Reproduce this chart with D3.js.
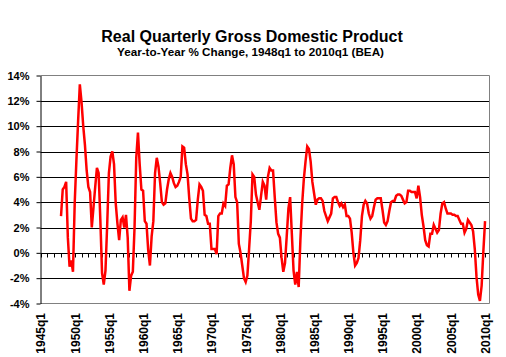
<!DOCTYPE html>
<html>
<head>
<meta charset="utf-8">
<script src="https://cdn.jsdelivr.net/npm/d3@7/dist/d3.min.js"></script>
<style>
  html, body { margin: 0; padding: 0; background: #fff; }
  svg { display: block; }
  text { font-family: "Liberation Sans", Arial, sans-serif; font-weight: bold; fill: #000; }
</style>
</head>
<body>
<svg id="chart" width="506" height="357"></svg>
<script>
// ---- Data ----
const chartTitle = "Real Quarterly Gross Domestic Product";
const chartSubtitle = "Year-to-Year % Change, 1948q1 to 2010q1 (BEA)";
const axisStartYear = 1945;            // category axis begins at 1945q1
const seriesStart = { year: 1948, quarter: 1 };
// Real GDP, year-to-year % change, quarterly 1948q1 .. 2010q1
const yoyChange = [
  2.9, 5.0, 5.2, 5.6,      // 1948
  1.2, -1.1, -0.6, -1.5,   // 1949
  3.9, 7.3, 10.4, 13.3,    // 1950
  11.9, 10.0, 8.5, 6.5,    // 1951
  5.2, 4.8, 2.0, 3.6,      // 1952
  5.2, 6.7, 6.3, 2.6,      // 1953
  -1.6, -2.5, -1.4, 2.2,   // 1954
  6.3, 7.6, 8.0, 7.0,      // 1955
  3.9, 2.3, 1.0, 2.6,      // 1956
  2.8, 2.0, 3.0, 1.2,      // 1957
  -3.0, -1.8, -1.5, 2.0,   // 1958
  7.5, 9.5, 7.0, 5.0,      // 1959
  4.9, 2.5, 2.3, 0.2,      // 1960
  -1.0, 1.3, 2.5, 6.3,     // 1961
  7.5, 6.8, 5.5, 4.0,      // 1962
  3.8, 3.9, 5.0, 5.8,      // 1963
  6.3, 6.0, 5.5, 5.2,      // 1964
  5.3, 5.6, 6.0, 8.4,      // 1965
  8.3, 7.0, 6.2, 4.3,      // 1966
  2.7, 2.5, 2.5, 2.6,      // 1967
  4.2, 5.4, 5.2, 4.9,      // 1968
  3.0, 2.9, 2.3, 2.3,      // 1969
  0.3, 0.3, 0.3, -0.1,     // 1970
  2.9, 3.1, 3.1, 3.9,      // 1971
  3.7, 5.3, 5.4, 6.7,      // 1972
  7.7, 7.0, 4.4, 4.0,      // 1973
  0.7, 0.0, -1.0, -2.0,    // 1974
  -2.3, -1.8, 0.3, 2.5,    // 1975
  6.2, 6.0, 4.6, 4.0,      // 1976
  3.4, 4.5, 5.6, 5.3,      // 1977
  4.2, 6.0, 6.7, 6.5,      // 1978
  6.5, 4.4, 2.4, 1.5,      // 1979
  1.2, -0.4, -1.5, -0.8,   // 1980
  1.3, 3.5, 4.4, 1.5,      // 1981
  -1.4, -2.5, -1.5, -2.7,  // 1982
  1.0, 3.8, 5.8, 7.2,      // 1983
  8.4, 8.2, 7.2, 5.6,      // 1984
  4.7, 3.8, 4.2, 4.3,      // 1985
  4.3, 4.1, 3.3, 2.9,      // 1986
  2.5, 2.8, 3.1, 4.3,      // 1987
  4.4, 4.4, 4.0, 3.7,      // 1988
  3.9, 3.6, 3.8, 2.9,      // 1989
  2.9, 2.7, 1.6, 0.0,      // 1990
  -1.0, -0.8, -0.4, 1.0,   // 1991
  2.9, 3.8, 4.1, 3.9,      // 1992
  3.1, 2.7, 2.9, 3.6,      // 1993
  4.2, 4.3, 4.3, 4.3,      // 1994
  3.4, 2.4, 2.2, 2.5,      // 1995
  3.3, 4.0, 4.1, 4.1,      // 1996
  4.5, 4.6, 4.6, 4.5,      // 1997
  4.2, 3.9, 4.0, 4.9,      // 1998
  4.9, 4.8, 4.8, 4.8,      // 1999
  4.3, 5.3, 4.4, 3.0,      // 2000
  2.1, 1.0, 0.6, 0.5,      // 2001
  1.5, 1.5, 2.2, 1.9,      // 2002
  1.6, 1.8, 3.1, 3.9,      // 2003
  4.0, 3.5, 3.1, 3.1,      // 2004
  3.1, 3.0, 3.0, 2.9,      // 2005
  2.9, 2.6, 2.3, 2.3,      // 2006
  1.6, 1.9, 2.6, 2.4,      // 2007
  2.2, 1.7, 0.3, -1.9,     // 2008
  -3.3, -3.8, -2.6, 0.1,   // 2009
  2.5                      // 2010q1
];
const xTickLabels = ["1945q1","1950q1","1955q1","1960q1","1965q1","1970q1","1975q1",
                     "1980q1","1985q1","1990q1","1995q1","2000q1","2005q1","2010q1"];
const yTickValues = [-4, -2, 0, 2, 4, 6, 8, 10, 12, 14];

// ---- Layout ----
const svg = d3.select("#chart");
const plot = { left: 40.5, right: 489.5, top: 75.5, bottom: 303.5 };
const axisEndIndex = 262.6; // plot area extends slightly beyond 2010q1

const x = d3.scaleLinear().domain([0, axisEndIndex]).range([plot.left, plot.right]);
const y = d3.scaleLinear().domain([-4, 14]).range([plot.bottom, plot.top]);

const offset = (seriesStart.year - axisStartYear) * 4 + (seriesStart.quarter - 1);
const points = yoyChange.map((v, k) => ({ idx: offset + k, v }));

// Title
svg.append("text").attr("x", 252).attr("y", 41.5).attr("text-anchor", "middle")
  .style("font-size", "16px").text(chartTitle);
svg.append("text").attr("x", 250.5).attr("y", 56).attr("text-anchor", "middle")
  .style("font-size", "11.7px").text(chartSubtitle);

// Gridlines
svg.append("g").selectAll("line").data(yTickValues.filter(d => d > -4 && d < 14)).join("line")
  .attr("x1", plot.left).attr("x2", plot.right)
  .attr("y1", d => Math.round(y(d)) + 0.5).attr("y2", d => Math.round(y(d)) + 0.5)
  .attr("stroke", "#000").attr("stroke-width", 1);

// Plot border (gray top/right/bottom)
svg.append("path")
  .attr("d", `M${plot.left},${plot.top}H${plot.right}V${plot.bottom}H${plot.left}`)
  .attr("fill", "none").attr("stroke", "#808080").attr("stroke-width", 1);

// Y axis
const yAxis = d3.axisLeft(y).tickValues(yTickValues).tickFormat(d => d + "%").tickSize(4).tickSizeOuter(0);
const gy = svg.append("g").attr("transform", `translate(${plot.left},0)`).call(yAxis);
gy.select(".domain").attr("stroke", "#000");
gy.selectAll(".tick line").attr("stroke", "#000");
gy.selectAll(".tick text").attr("x", -11).style("font-size", "11px")
  .style("font-family", "'Liberation Sans', Arial, sans-serif").style("font-weight", "bold");

// X axis ticks on the zero line (yearly), labels below plot every 5 years
const yearTickIdx = d3.range(0, 261, 4);
const zeroY = Math.round(y(0)) + 0.5;
svg.append("g").selectAll("line").data(yearTickIdx).join("line")
  .attr("x1", d => Math.round(x(d)) + 0.5).attr("x2", d => Math.round(x(d)) + 0.5)
  .attr("y1", zeroY).attr("y2", zeroY + 4)
  .attr("stroke", "#000").attr("stroke-width", 1);

const xAxis = d3.axisBottom(x)
  .tickValues(xTickLabels.map((_, i) => i * 20))
  .tickFormat((d, i) => xTickLabels[i])
  .tickSize(0);
const gx = svg.append("g").attr("transform", `translate(0,${plot.bottom})`).call(xAxis);
gx.select(".domain").remove();
gx.selectAll(".tick text")
  .attr("transform", "translate(0,9.5) rotate(-90)")
  .attr("x", 0).attr("y", 0).attr("dy", "0.36em")
  .attr("text-anchor", "end")
  .style("font-size", "12px")
  .style("font-family", "'Liberation Sans', Arial, sans-serif").style("font-weight", "bold");

// Series line
const line = d3.line().x(d => x(d.idx)).y(d => y(d.v));
svg.append("path").datum(points)
  .attr("d", line)
  .attr("fill", "none").attr("stroke", "#ff0000").attr("stroke-width", 2.5)
  .attr("stroke-linejoin", "miter");
</script>
</body>
</html>
